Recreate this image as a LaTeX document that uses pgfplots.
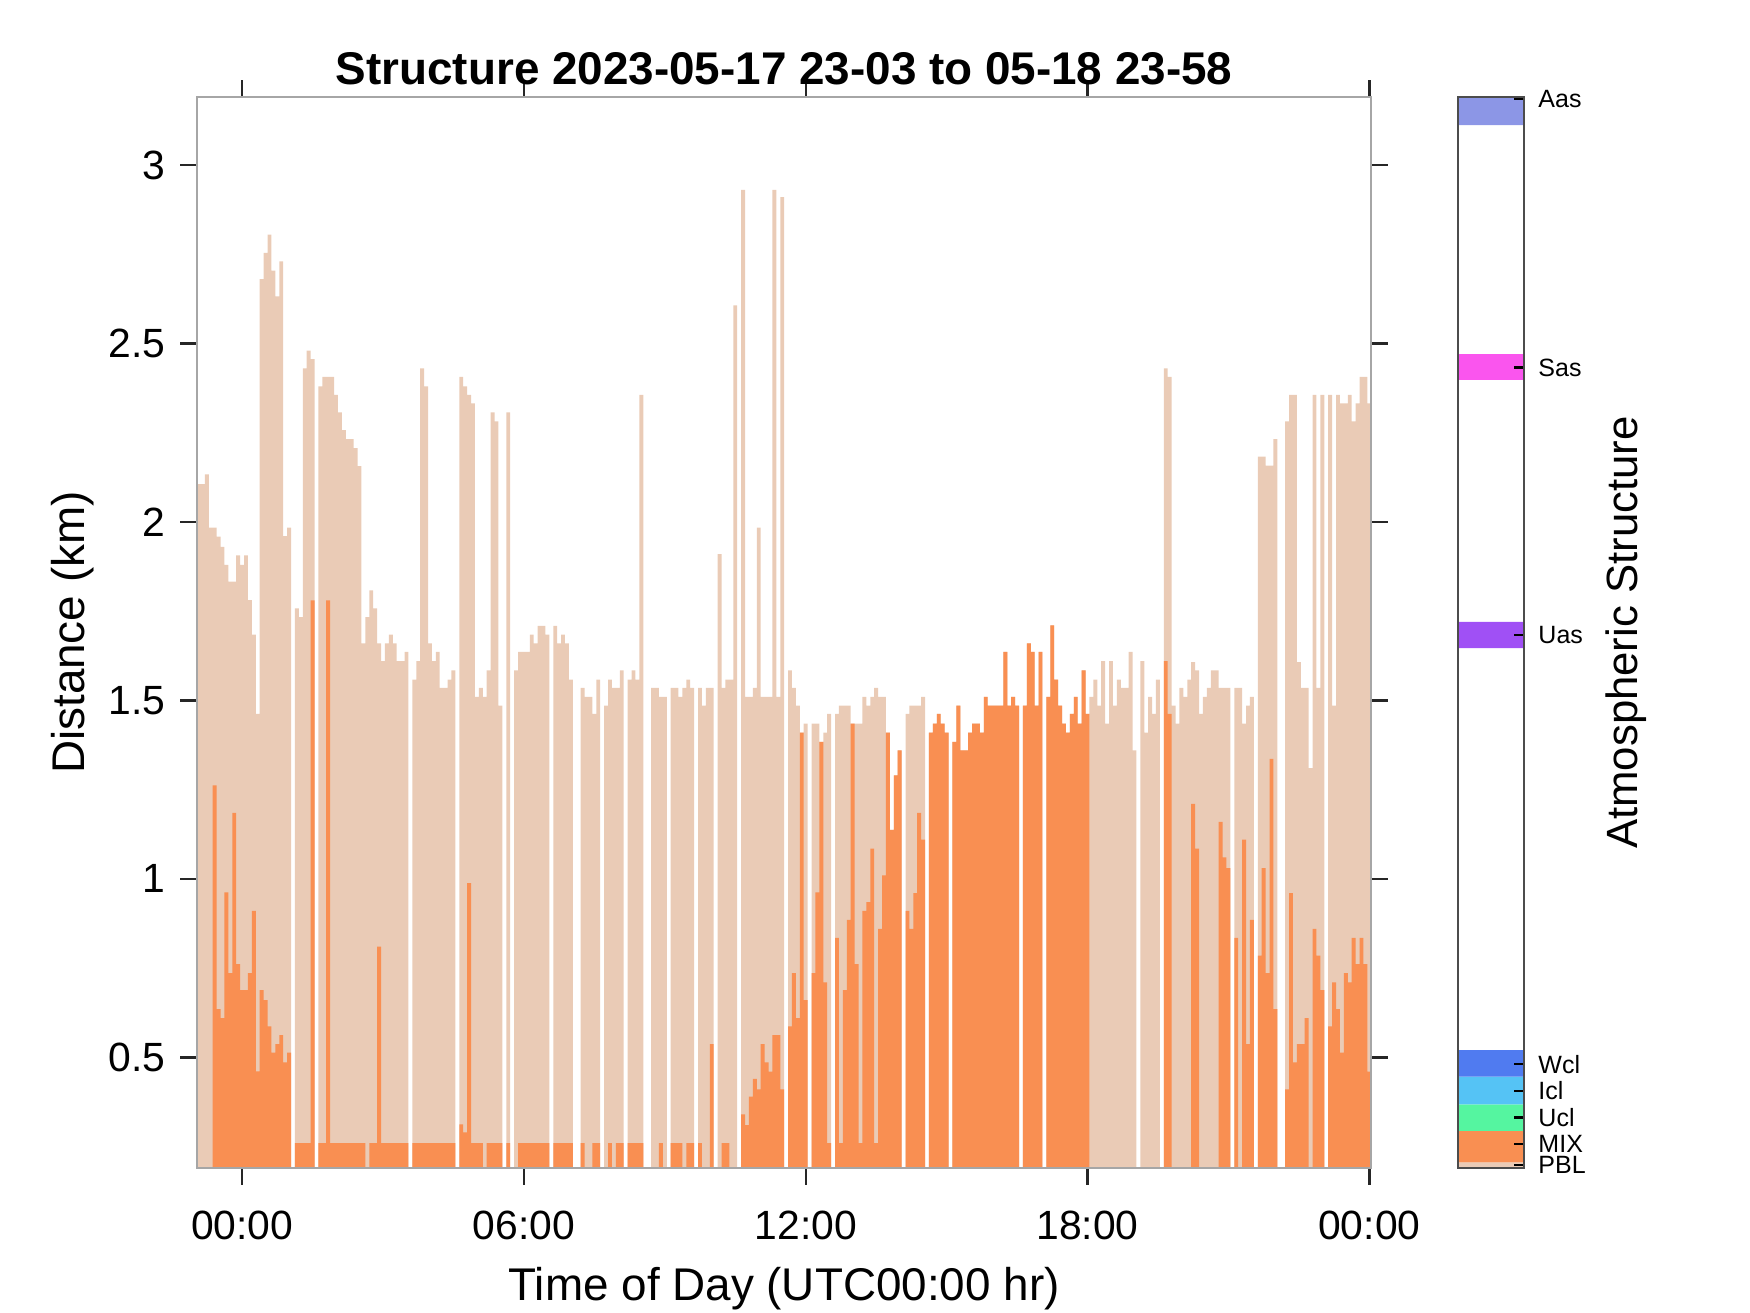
\documentclass[border=0pt]{standalone}
\usepackage{fontspec}
\setmainfont{Liberation Sans}
\usepackage{pgfplots}
\usepackage{pgfplotstable}
\pgfplotsset{compat=1.18}
\definecolor{pbl}{RGB}{234,203,182}
\definecolor{mix}{RGB}{249,143,82}
\definecolor{ucl}{RGB}{85,245,160}
\definecolor{icl}{RGB}{85,195,245}
\definecolor{wcl}{RGB}{80,123,240}
\definecolor{uas}{RGB}{160,80,245}
\definecolor{sas}{RGB}{250,85,238}
\definecolor{aas}{RGB}{140,150,230}
% i = 5-minute profile index, start 23:02.4 previous day
\pgfplotstableread{
i pbl mix
0 2.106 0
1 2.106 0
2 2.133 0
3 1.984 0
4 1.984 1.262
5 1.959 0.635
6 1.93 0.61
7 1.88 0.962
8 1.833 0.736
9 1.833 1.185
10 1.906 0.761
11 1.88 0.688
12 1.906 0.688
13 1.781 0.736
14 1.684 0.91
15 1.462 0.461
16 2.68 0.688
17 2.754 0.66
18 2.805 0.587
19 2.704 0.513
20 2.632 0.537
21 2.73 0.562
22 1.96 0.486
23 1.984 0.513
24 0 0
25 1.758 0.26
26 1.733 0.26
27 2.43 0.26
28 2.48 0.26
29 2.456 1.78
30 0 0
31 2.38 0.26
32 2.406 0.26
33 2.406 1.78
34 2.406 0.26
35 2.356 0.26
36 2.307 0.26
37 2.257 0.26
38 2.232 0.26
39 2.232 0.26
40 2.207 0.26
41 2.156 0.26
42 1.66 0.26
43 1.733 0
44 1.808 0.26
45 1.758 0.26
46 1.66 0.81
47 1.61 0.26
48 1.66 0.26
49 1.684 0.26
50 1.66 0.26
51 1.61 0.26
52 1.61 0.26
53 1.636 0.26
54 0 0
55 1.558 0.26
56 1.61 0.26
57 2.43 0.26
58 2.38 0.26
59 1.66 0.26
60 1.61 0.26
61 1.636 0.26
62 1.535 0.26
63 1.535 0.26
64 1.558 0.26
65 1.584 0.26
66 0 0
67 2.406 0.312
68 2.38 0.29
69 2.356 0.988
70 2.332 0.26
71 1.51 0.26
72 1.535 0.26
73 1.51 0
74 1.584 0.26
75 2.307 0.26
76 2.282 0.26
77 1.485 0.26
78 0 0
79 2.307 0.26
80 0 0
81 1.584 0
82 1.636 0.26
83 1.636 0.26
84 1.636 0.26
85 1.684 0.26
86 1.66 0.26
87 1.709 0.26
88 1.709 0.26
89 1.684 0.26
90 0 0
91 1.709 0.26
92 1.66 0.26
93 1.684 0.26
94 1.66 0.26
95 1.558 0.26
96 0 0
97 0 0
98 1.535 0.26
99 1.51 0
100 1.51 0
101 1.462 0.26
102 1.558 0.26
103 0 0
104 1.485 0
105 1.558 0.26
106 1.535 0
107 1.535 0.26
108 1.584 0.26
109 0 0
110 1.558 0.26
111 1.584 0.26
112 1.558 0.26
113 2.356 0.26
114 0 0
115 0 0
116 1.535 0
117 1.535 0
118 1.51 0.26
119 1.51 0
120 0 0
121 1.535 0.26
122 1.535 0.26
123 1.51 0.26
124 1.535 0
125 1.558 0.26
126 1.535 0.26
127 0 0
128 1.535 0.26
129 1.485 0
130 1.535 0
131 1.535 0.537
132 0 0
133 1.91 0
134 1.535 0.26
135 1.558 0.26
136 1.558 0
137 2.607 0
138 0 0
139 2.93 0.34
140 1.51 0.31
141 1.51 0.39
142 1.535 0.44
143 1.984 0.41
144 1.51 0.537
145 1.51 0.486
146 1.51 0.46
147 2.93 0.562
148 1.51 0.562
149 2.91 0.41
150 0 0
151 1.584 0.587
152 1.535 0.736
153 1.485 0.61
154 1.41 1.41
155 1.435 0.66
156 0 0
157 1.435 0.736
158 1.435 0.962
159 1.384 1.384
160 1.41 0.71
161 1.462 0.26
162 0 0
163 1.462 0.835
164 1.485 0.26
165 1.485 0.688
166 1.485 0.885
167 1.435 1.435
168 1.435 0.761
169 1.435 0.26
170 1.51 0.91
171 1.485 0.935
172 1.51 1.085
173 1.535 0.26
174 1.51 0.86
175 1.51 1.01
176 1.41 1.41
177 1.137 1.137
178 1.29 1.29
179 1.36 1.36
180 0 0
181 1.462 0.91
182 1.485 0.86
183 1.485 0.96
184 1.485 1.185
185 1.51 1.11
186 0 0
187 1.41 1.41
188 1.435 1.435
189 1.462 1.462
190 1.435 1.435
191 1.41 1.41
192 0 0
193 1.384 1.384
194 1.485 1.485
195 1.36 1.36
196 1.36 1.36
197 1.41 1.41
198 1.435 1.435
199 1.435 1.435
200 1.41 1.41
201 1.51 1.51
202 1.485 1.485
203 1.485 1.485
204 1.485 1.485
205 1.485 1.485
206 1.636 1.636
207 1.485 1.485
208 1.51 1.51
209 1.485 1.485
210 0 0
211 1.485 1.485
212 1.66 1.66
213 1.636 1.636
214 1.485 1.485
215 1.636 1.636
216 0 0
217 1.51 1.51
218 1.71 1.71
219 1.558 1.558
220 1.485 1.485
221 1.435 1.435
222 1.41 1.41
223 1.462 1.462
224 1.51 1.51
225 1.435 1.435
226 1.584 1.584
227 1.462 1.462
228 1.51 0
229 1.558 0
230 1.485 0
231 1.61 0
232 1.435 0
233 1.61 0
234 1.485 0
235 1.558 0
236 1.535 0
237 1.535 0
238 1.636 0
239 1.36 0
240 0 0
241 1.61 0
242 1.41 0
243 1.51 0
244 1.462 0
245 1.558 0
246 0 0
247 2.43 1.61
248 2.406 1.462
249 1.485 0
250 1.435 0
251 1.535 0
252 1.51 0
253 1.558 0
254 1.607 1.21
255 1.584 1.085
256 1.462 0
257 1.51 0
258 1.535 0
259 1.584 0
260 1.584 0
261 1.535 1.16
262 1.535 1.06
263 1.535 1.03
264 0 0
265 1.535 0.835
266 1.535 0
267 1.435 1.11
268 1.485 0.537
269 1.51 0.885
270 0 0
271 2.183 0.785
272 2.183 1.03
273 2.158 0.736
274 2.158 1.336
275 2.232 0.635
276 0 0
277 0 0
278 2.282 0.41
279 2.356 0.96
280 2.356 0.486
281 1.607 0.537
282 1.535 0.537
283 1.535 0.61
284 1.31 0
285 2.356 0.86
286 1.535 0.785
287 2.356 0.688
288 0 0
289 2.356 0.587
290 1.485 0.71
291 2.356 0.635
292 2.332 0.513
293 2.332 0.736
294 2.356 0.71
295 2.282 0.835
296 2.332 0.761
297 2.406 0.835
298 2.406 0.761
299 2.332 0.46
300 0 0
}\data

\begin{document}
\begin{tikzpicture}
\path[use as bounding box] (-47.3pt,-34.8pt) rectangle (372.7pt,280.32pt);
\begin{axis}[
  at={(0pt,0pt)}, anchor=south west,
  scale only axis, width=281.8pt, height=257pt,
  xmin=-0.96, xmax=24.04, ymin=0.19, ymax=3.19,
  xtick={0,6,12,18,24},
  xticklabels={00:00,06:00,12:00,18:00,00:00},
  ytick={0.5,1,1.5,2,2.5,3},
  yticklabels={0.5,1,1.5,2,2.5,3},
  tick align=outside,
  major tick length=4pt,
  tick label style={font=\fontsize{9.8}{11}\selectfont},
  xticklabel style={yshift=-2.7pt},
  /pgf/number format/assume math mode=true,
  axis line style={gray!70, line width=0.5pt},
  every tick/.style={black!85, line width=0.6pt},
  axis on top,
  title={Structure 2023-05-17 23-03 to 05-18 23-58},
  title style={at={(axis description cs:0.5,1)}, anchor=base, yshift=-3pt, font=\bfseries\fontsize{11}{13}\selectfont},
  xlabel={Time of Day (UTC00:00 hr)},
  ylabel={Distance (km)},
  every axis x label/.style={at={(axis description cs:0.5,0)}, anchor=center, yshift=-29pt, font=\fontsize{11}{13}\selectfont},
  every axis y label/.style={at={(axis description cs:0,0.5)}, xshift=-29.9pt, anchor=center, rotate=90, font=\fontsize{11}{13}\selectfont},
]
\addplot[ybar interval, fill=pbl, draw=none] table[x expr=\thisrow{i}/12-0.96, y=pbl] {\data};
\addplot[ybar interval, fill=mix, draw=none] table[x expr=\thisrow{i}/12-0.96, y=mix] {\data};
\end{axis}
\begin{axis}[
  at={(302.6pt,0pt)}, anchor=south west,
  scale only axis, width=15.8pt, height=257pt,
  xmin=0, xmax=1, ymin=0, ymax=39.85,
  xtick=\empty,
  ytick={0.1,0.89,1.88,2.87,3.86,19.82,29.79,39.77},
  yticklabels={PBL,MIX,Ucl,Icl,Wcl,Uas,Sas,Aas},
  ytick pos=right, yticklabel pos=right,
  tick align=inside,
  major tick length=2.4pt,
  every tick/.style={black, line width=0.5pt},
  yticklabel style={font=\fontsize{6}{7}\selectfont, anchor=west},
  axis line style={black!70, line width=0.6pt},
  axis on top,
  ylabel={Atmospheric Structure},
  every axis y label/.style={at={(axis description cs:1,0.5)}, xshift=24.5pt, anchor=center, rotate=90, font=\fontsize{10.5}{12}\selectfont},
]
\addplot[fill=pbl, draw=none] coordinates {(0,0) (1,0) (1,0.21) (0,0.21) (0,0)};
\addplot[fill=mix, draw=none] coordinates {(0,0.21) (1,0.21) (1,1.38) (0,1.38) (0,0.21)};
\addplot[fill=ucl, draw=none] coordinates {(0,1.38) (1,1.38) (1,2.37) (0,2.37) (0,1.38)};
\addplot[fill=icl, draw=none] coordinates {(0,2.37) (1,2.37) (1,3.40) (0,3.40) (0,2.37)};
\addplot[fill=wcl, draw=none] coordinates {(0,3.40) (1,3.40) (1,4.39) (0,4.39) (0,3.40)};
\addplot[fill=uas, draw=none] coordinates {(0,19.35) (1,19.35) (1,20.32) (0,20.32) (0,19.35)};
\addplot[fill=sas, draw=none] coordinates {(0,29.33) (1,29.33) (1,30.29) (0,30.29) (0,29.33)};
\addplot[fill=aas, draw=none] coordinates {(0,38.81) (1,38.81) (1,39.85) (0,39.85) (0,38.81)};
\end{axis}
\end{tikzpicture}
\end{document}
